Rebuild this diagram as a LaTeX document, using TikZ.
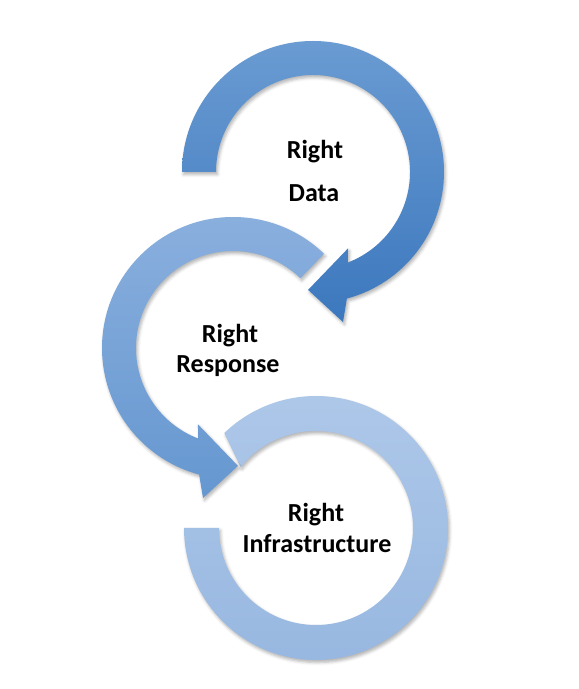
\documentclass[tikz,border=0pt]{standalone}
\usepackage{fontspec}
\setmainfont{Carlito}
\usetikzlibrary{calc,shadows.blur}
\definecolor{oneTop}{HTML}{6A9BD2}
\definecolor{oneBot}{HTML}{3C78BE}
\definecolor{twoTop}{HTML}{8BB0DE}
\definecolor{twoBot}{HTML}{6597D0}
\definecolor{thrTop}{HTML}{AEC8E9}
\definecolor{thrBot}{HTML}{97B7E0}
\begin{document}
\begin{tikzpicture}[x=1pt,y=1pt,
  lbl/.style={font=\bfseries\fontsize{26}{30}\selectfont, inner sep=0pt, anchor=base, text=black},
  ringshape/.style={blur shadow={shadow xshift=1.5pt,shadow yshift=-2.5pt,shadow blur radius=3pt,shadow opacity=30}}]
\useasboundingbox (0,0) rectangle (579,689);
\coordinate (c1) at (313,517);
\coordinate (c2) at (233,341);
\coordinate (c3) at (316,161);
% ring 3 (no arrow head)
\path[ringshape, top color=thrTop, bottom color=thrBot]
  ($(c3)+(134:132)$) arc[start angle=134, end angle=-180, radius=132]
  -- ($(c3)+(180:97)$) arc[start angle=-180, end angle=141, radius=97] -- cycle;
% ring 2 (counter-clockwise, head at bottom)
\path[ringshape, top color=twoTop, bottom color=twoBot]
  ($(c2)+(46:131)$) arc[start angle=46, end angle=255, radius=131]
  -- ($(c2)+(258.7:153)$) -- ($(c2)+(272.4:118)$) -- ($(c2)+(245.3:84)$)
  -- ($(c2)+(249:97)$) arc[start angle=249, end angle=46, radius=97] -- cycle;
% ring 1 (clockwise, head at bottom)
\path[ringshape, top color=oneTop, bottom color=oneBot]
  ($(c1)+(180:131)$) arc[start angle=180, end angle=-75, radius=131]
  -- ($(c1)+(-78.7:153)$) -- ($(c1)+(-92.4:118)$) -- ($(c1)+(-65.3:84)$)
  -- ($(c1)+(-69:97)$) arc[start angle=-69, end angle=180, radius=97] -- cycle;
% labels
\node[lbl] (d1) at (315,530) {Right};
\node[lbl] (d2) at (314,487) {Data};
\node[lbl] (r1) at (230,346) {Right};
\node[lbl] (r2) at (228,316) {Response};
\node[lbl] (i1) at (316,167) {Right};
\node[lbl] (i2) at (317,136) {Infrastructure};
\end{tikzpicture}
\end{document}
